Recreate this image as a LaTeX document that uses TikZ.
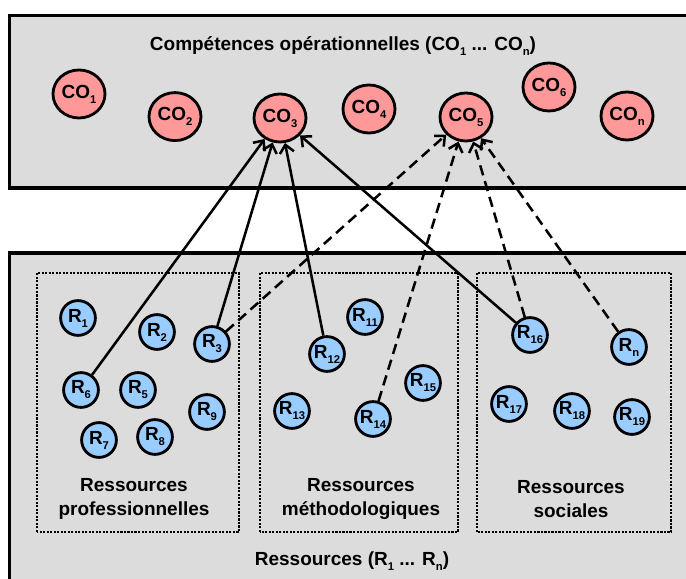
\documentclass[tikz,border=0pt]{standalone}
\usepackage{fontspec}
\setmainfont{Liberation Sans}
\usetikzlibrary{shapes.geometric,arrows.meta}
\definecolor{corouge}{HTML}{FF9999}
\definecolor{rbleu}{HTML}{99CCFF}
\definecolor{fond}{HTML}{DCDCDC}
\newcommand{\indice}[1]{\raisebox{-0.5ex}{\fontsize{8}{8}\selectfont #1}}
\tikzset{
  cadre/.style={fill=fond, draw=black, line width=2.4pt},
  groupe/.style={draw=black, line width=1.7pt, dash pattern=on 1.5pt off 1pt},
  co/.style={ellipse, draw=black, fill=corouge, line width=2pt, minimum width=13mm, minimum height=12mm, inner sep=0pt},
  res/.style={circle, draw=black, fill=rbleu, line width=2pt, minimum size=8.7mm, inner sep=0pt},
  lien/.style={line width=1.8pt, -{Straight Barb[length=2mm,width=3.6mm]}},
  lienpt/.style={lien, dash pattern=on 2.6mm off 1.5mm}
}
\begin{document}
\begin{tikzpicture}[font=\fontsize{13.5}{16.5}\selectfont\bfseries]
        \useasboundingbox (0,0) rectangle (171.5mm,144.75mm);
        \clip (0,0) rectangle (171.5mm,144.75mm);

        %Compétences opérationnelles
        \filldraw[cadre] (2.4mm,97.75mm) rectangle (175mm,140.9mm);
        \node (tco) at (85.75mm,133.25mm) {Compétences opérationnelles (CO\indice{1} ... CO\indice{n})};
        \node[co] (co1) at (19.75mm,121.25mm) {CO\indice{1}};
        \node[co] (co2) at (43.75mm,115.6mm) {CO\indice{2}};
        \node[co] (co3) at (70mm,115.25mm) {CO\indice{3}};
        \node[co] (co4) at (92.25mm,117.5mm) {CO\indice{4}};
        \node[co] (co5) at (116.5mm,115.5mm) {CO\indice{5}};
        \node[co] (co6) at (137.25mm,123mm) {CO\indice{6}};
        \node[co] (con) at (156.75mm,115.75mm) {CO\indice{n}};

        %Ressources
        \filldraw[cadre] (2.4mm,-2mm) rectangle (175mm,81.5mm);
        \node (tr) at (88mm,4.5mm) {Ressources (R\indice{1} ... R\indice{n})};

        %Ressources professionnelles
        \draw[groupe] (9.25mm,11.75mm) rectangle (59.75mm,76.5mm);
        \node[align=center] (gpro) at (33.5mm,20mm) {Ressources\\professionnelles};
        \node[res] (r1) at (19.5mm,65.25mm) {R\indice{1}};
        \node[res] (r2) at (39.25mm,61.75mm) {R\indice{2}};
        \node[res] (r3) at (53mm,58.75mm) {R\indice{3}};
        \node[res] (r5) at (34.5mm,47.25mm) {R\indice{5}};
        \node[res] (r6) at (20.25mm,47.25mm) {R\indice{6}};
        \node[res] (r7) at (24.75mm,34.75mm) {R\indice{7}};
        \node[res] (r8) at (38.75mm,35.5mm) {R\indice{8}};
        \node[res] (r9) at (51.75mm,41.75mm) {R\indice{9}};

        %Ressources méthodologiques
        \draw[groupe] (65mm,11.75mm) rectangle (114.5mm,76.5mm);
        \node[align=center] (gmeth) at (90.25mm,20mm) {Ressources\\méthodologiques};
        \node[res] (r11) at (91.25mm,65.5mm) {R\indice{11}};
        \node[res] (r12) at (81.75mm,56.25mm) {R\indice{12}};
        \node[res] (r13) at (73mm,42mm) {R\indice{13}};
        \node[res] (r14) at (93.25mm,40mm) {R\indice{14}};
        \node[res] (r15) at (105.75mm,49mm) {R\indice{15}};

        %Ressources sociales
        \draw[groupe] (119.25mm,11.75mm) rectangle (167.75mm,76.5mm);
        \node[align=center] (gsoc) at (142.75mm,20mm) {Ressources\\sociales};
        \node[res] (r16) at (132.5mm,61mm) {R\indice{16}};
        \node[res] (rn) at (157.25mm,58mm) {R\indice{n}};
        \node[res] (r17) at (127.25mm,43.75mm) {R\indice{17}};
        \node[res] (r18) at (143mm,42mm) {R\indice{18}};
        \node[res] (r19) at (158mm,40.5mm) {R\indice{19}};

        %liens vers CO3 et CO5
        \draw[lien] (r6) -- (co3);
        \draw[lien] (r3) -- (co3);
        \draw[lien] (r12) -- (co3);
        \draw[lien] (r16) -- (co3);
        \draw[lienpt] (r3) -- (co5);
        \draw[lienpt] (r14) -- (co5);
        \draw[lienpt] (r16) -- (co5);
        \draw[lienpt] (rn) -- (co5);
\end{tikzpicture}
\end{document}
